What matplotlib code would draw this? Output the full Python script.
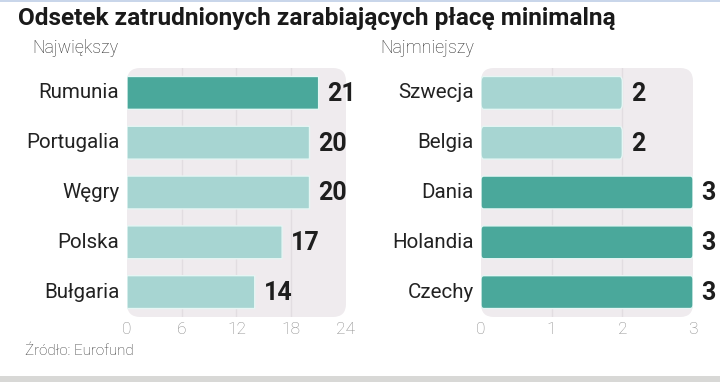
import matplotlib.pyplot as plt
from matplotlib.patches import FancyBboxPatch, Rectangle

# Data
left_countries = ['Rumunia', 'Portugalia', 'Węgry', 'Polska', 'Bułgaria']
left_values = [21, 20, 20, 17, 14]
left_highlight = [True, False, False, False, False]
left_ticks = [0, 6, 12, 18, 24]

right_countries = ['Szwecja', 'Belgia', 'Dania', 'Holandia', 'Czechy']
right_values = [2, 2, 3, 3, 3]
right_highlight = [False, False, True, True, True]
right_ticks = [0, 1, 2, 3]

DARK = '#4aa89b'
LIGHT = '#a7d5d2'
BG = '#efebee'
GRID = '#e2dde1'

plt.rcParams['font.family'] = ['Roboto', 'DejaVu Sans']

W, H = 720, 382
fig = plt.figure(figsize=(W / 100, H / 100), dpi=100)
fig.patch.set_facecolor('white')


def px_axes(x0, x1, ytop, ybot):
    return fig.add_axes([x0 / W, (H - ybot) / H, (x1 - x0) / W, (ybot - ytop) / H])


def panel(ax, names, values, highlight, ticks):
    xmax = ticks[-1]
    ax.set_xlim(0, xmax)
    ax.set_ylim(len(names) - 0.5, -0.5)
    ax.axis('off')
    bg = FancyBboxPatch((0, 0), 1, 1, boxstyle='round,pad=0,rounding_size=0.06',
                        transform=ax.transAxes, facecolor=BG, edgecolor='none',
                        zorder=0, mutation_aspect=219 / 249)
    ax.add_patch(bg)
    for t in ticks[1:-1]:
        ax.plot([t, t], [-0.5, len(names) - 0.5], color=GRID, lw=1, zorder=1)
    for i, (n, v, h) in enumerate(zip(names, values, highlight)):
        bar = FancyBboxPatch((0, i - 0.33), v, 0.66,
                             boxstyle='round,pad=0,rounding_size=0.04',
                             mutation_aspect=(0.66 / (v if v else 1)) * 8,
                             facecolor=DARK if h else LIGHT,
                             edgecolor='#e6f6f4', lw=1, zorder=2)
        ax.add_patch(bar)
        ax.text(-xmax * 0.035, i, n, ha='right', va='center',
                fontsize=14.8, color='#222222', clip_on=False)
        ax.text(v + xmax * 0.041, i + 0.02, str(v), ha='left', va='center',
                fontsize=18, fontweight='bold', color='#1e1e1e', clip_on=False)
    for t in ticks:
        ax.text(t, len(names) - 0.5 + 0.26, str(t), ha='center', va='center',
                fontsize=12.5, fontweight='light', color='#8a8a8a', clip_on=False)


axl = px_axes(127, 346, 68, 317)
panel(axl, left_countries, left_values, left_highlight, left_ticks)

axr = px_axes(481, 693, 68, 317)
panel(axr, right_countries, right_values, right_highlight, right_ticks)

fig.text(18 / W, 1 - 18 / H, 'Odsetek zatrudnionych zarabiających płacę minimalną',
         ha='left', va='center', fontsize=17.6, fontweight='bold', color='#1a1a1a')
fig.text(32 / W, 1 - 48 / H, 'Największy', ha='left', va='center',
         fontsize=12.8, fontweight='light', color='#2a2a2a')
fig.text(380 / W, 1 - 48 / H, 'Najmniejszy', ha='left', va='center',
         fontsize=12.8, fontweight='light', color='#2a2a2a')
fig.text(25 / W, 1 - 351 / H, 'Źródło: Eurofund', ha='left', va='center',
         fontsize=10.9, fontweight='light', color='#333333')

# frame strips
fig.patches.append(Rectangle((0, 1 - 2 / H), 1, 2 / H, transform=fig.transFigure,
                             facecolor='#c9d6ea', edgecolor='none'))
fig.patches.append(Rectangle((0, 0), 1, 6 / H, transform=fig.transFigure,
                             facecolor='#d8d8d6', edgecolor='none'))

fig.savefig('out.png', dpi=100)
